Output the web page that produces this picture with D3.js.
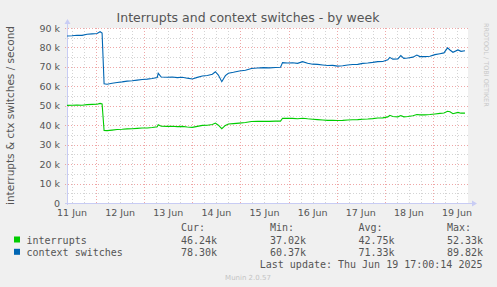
<!DOCTYPE html>
<html>
<head>
<meta charset="utf-8">
<script src="https://cdn.jsdelivr.net/npm/d3@7"></script>
<style>
  body { margin: 0; background: #f0f0f0; }
  svg { display: block; }
</style>
</head>
<body>
<div id="chart"></div>
<script>
// data: hours since Jun 11 09:30, values in thousands / second
var hours = [0, 2.5, 5, 7.5, 10, 12.5, 15, 16.5, 17.5, 18.5, 20, 22.5, 25, 27.5, 30, 32.5, 35, 37.5, 40, 42.5,
  45, 45.5, 47, 50, 52.5, 55, 57.5, 60, 62.5, 65, 67.5, 70, 72.5, 74, 75.5, 77.2, 79, 80.5, 83, 86,
  89, 92, 95, 98, 101, 104, 106.5, 107.5, 110, 112.5, 115, 117.5, 120, 122.5, 125, 127.5, 130, 132.5, 135, 137.5,
  140, 142.5, 145, 147.5, 150, 152.5, 155, 157.5, 160, 161, 162.5, 165, 166.5, 168, 170, 172.5, 174.5, 176, 178.5, 181,
  183.5, 186, 188, 189.8, 191, 192.5, 195, 196.5, 198.5];
var ctx_switches = [85.9, 86.0, 86.3, 86.2, 86.8, 87.0, 87.2, 88.1, 87.4, 61.3, 61.1, 61.6, 62.0, 62.3, 62.7, 62.9, 63.2, 63.5, 63.7, 64.0,
  64.5, 66.7, 64.8, 64.7, 64.8, 64.5, 64.7, 64.2, 63.8, 64.6, 65.3, 65.6, 66.2, 67.5, 65.8, 62.4, 65.5, 66.7, 67.2, 67.9,
  68.3, 69.2, 69.4, 69.6, 69.5, 69.7, 69.8, 72.2, 72.0, 72.1, 71.8, 72.7, 71.9, 71.4, 71.3, 71.0, 70.7, 70.8, 70.4, 70.6,
  71.0, 71.2, 71.3, 71.8, 72.0, 72.3, 72.7, 72.8, 73.6, 74.9, 74.0, 74.1, 75.8, 74.4, 74.6, 75.0, 76.1, 75.3, 75.3, 75.5,
  76.3, 76.8, 77.2, 79.8, 78.7, 77.5, 78.7, 78.0, 78.3];
var interrupts = [50.2, 50.3, 50.4, 50.3, 50.6, 50.7, 50.8, 51.2, 50.9, 37.3, 37.2, 37.5, 37.8, 37.9, 38.1, 38.2, 38.4, 38.6, 38.6, 38.8,
  39.2, 40.3, 39.5, 39.4, 39.5, 39.3, 39.4, 39.1, 38.9, 39.4, 39.9, 40.0, 40.4, 41.1, 40.0, 38.2, 39.9, 40.6, 40.8, 41.1,
  41.4, 41.9, 42.0, 42.0, 42.0, 42.1, 42.1, 43.6, 43.5, 43.5, 43.3, 43.6, 43.3, 43.1, 42.9, 42.7, 42.5, 42.5, 42.4, 42.5,
  42.7, 42.8, 42.9, 43.1, 43.2, 43.4, 43.7, 43.8, 44.3, 45.1, 44.5, 44.3, 45.0, 44.3, 44.5, 44.9, 45.5, 45.3, 45.3, 45.5,
  45.8, 46.1, 46.3, 47.2, 46.9, 45.9, 46.6, 46.2, 46.2];
var series_names = ["interrupts", "context switches"];
var series_colors = ["#00cc00", "#0066b3"];
var stat_heads = ["Cur:", "Min:", "Avg:", "Max:"];
var stat_values = [
  ["46.24k", "37.02k", "42.75k", "52.33k"],
  ["78.30k", "60.37k", "71.33k", "89.82k"]
];

var W = 497, H = 287;
var pLeft = 67, pRight = 468, pTop = 28, pBottom = 203;
var t0 = new Date(2025, 5, 11, 9, 30);
var t1 = new Date(2025, 5, 19, 17, 30);

var svg = d3.select("#chart").append("svg")
  .attr("width", W).attr("height", H)
  .style("font-family", "'DejaVu Sans', sans-serif");

svg.append("rect").attr("width", W).attr("height", H).attr("fill", "#f0f0f0");

var x = d3.scaleTime().domain([t0, t1]).range([pLeft, pRight]);
var y = d3.scaleLinear().domain([0, 90]).range([pBottom, pTop]);

// canvas
svg.append("rect")
  .attr("x", pLeft).attr("y", pTop)
  .attr("width", pRight - pLeft).attr("height", pBottom - pTop)
  .attr("fill", "#ffffff");

// minor grid
var minorY = d3.range(5, 90, 10);
svg.selectAll(".ymin").data(minorY).enter().append("line")
  .attr("x1", pLeft - 2).attr("x2", pRight)
  .attr("y1", function(d){ return Math.round(y(d)) + 0.5; })
  .attr("y2", function(d){ return Math.round(y(d)) + 0.5; })
  .attr("stroke", "#d4d4d4").attr("stroke-dasharray", "1,2");
var minorX = d3.timeHour.every(6).range(t0, t1).filter(function(d){ return d.getHours() != 0; });
svg.selectAll(".xmin").data(minorX).enter().append("line")
  .attr("y1", pTop).attr("y2", pBottom + 2)
  .attr("x1", function(d){ return Math.round(x(d)) + 0.5; })
  .attr("x2", function(d){ return Math.round(x(d)) + 0.5; })
  .attr("stroke", "#d4d4d4").attr("stroke-dasharray", "1,2");

// major grid
var majorY = d3.range(10, 91, 10);
svg.selectAll(".ymaj").data(majorY).enter().append("line")
  .attr("x1", pLeft - 2).attr("x2", pRight)
  .attr("y1", function(d){ return Math.round(y(d)) + 0.5; })
  .attr("y2", function(d){ return Math.round(y(d)) + 0.5; })
  .attr("stroke", "rgba(230,120,120,0.65)").attr("stroke-dasharray", "1,2");
var majorX = d3.timeDay.range(t0, t1);
svg.selectAll(".xmaj").data(majorX).enter().append("line")
  .attr("y1", pTop).attr("y2", pBottom + 2)
  .attr("x1", function(d){ return Math.round(x(d)) + 0.5; })
  .attr("x2", function(d){ return Math.round(x(d)) + 0.5; })
  .attr("stroke", "rgba(230,120,120,0.65)").attr("stroke-dasharray", "1,2");

// y labels
svg.selectAll(".ylab").data(d3.range(0, 91, 10)).enter().append("text")
  .attr("x", 60).attr("y", function(d){ return y(d) + 3.5; })
  .attr("text-anchor", "end")
  .attr("font-size", "9.5px").attr("fill", "#555")
  .text(function(d){ return d == 0 ? "0" : d + " k"; });

// x labels at noon
var noons = d3.timeDay.range(d3.timeDay.floor(t0), t1).map(function(d){ return d3.timeHour.offset(d, 12); });
svg.selectAll(".xlab").data(noons).enter().append("text")
  .attr("x", function(d){ return x(d); }).attr("y", 216)
  .attr("text-anchor", "middle")
  .attr("font-size", "9.5px").attr("fill", "#555")
  .text(d3.timeFormat("%d %b"));

// axes with arrows
var axisColor = "#c8ccf4";
svg.append("line").attr("x1", pLeft + 0.5).attr("x2", pLeft + 0.5).attr("y1", pBottom + 2).attr("y2", pTop - 5)
  .attr("stroke", axisColor);
svg.append("line").attr("x1", pLeft - 2).attr("x2", pRight + 4).attr("y1", pBottom + 0.5).attr("y2", pBottom + 0.5)
  .attr("stroke", axisColor);
svg.append("path").attr("d", "M" + (pLeft - 2.5) + "," + (pTop - 4) + "L" + (pLeft + 0.5) + "," + (pTop - 9) + "L" + (pLeft + 3.5) + "," + (pTop - 4) + "Z")
  .attr("fill", axisColor);
svg.append("path").attr("d", "M" + (pRight + 4) + "," + (pBottom - 2.5) + "L" + (pRight + 9) + "," + (pBottom + 0.5) + "L" + (pRight + 4) + "," + (pBottom + 3.5) + "Z")
  .attr("fill", axisColor);

// lines
var line = d3.line()
  .x(function(d){ return x(d3.timeMinute.offset(t0, Math.round(d[0] * 60))); })
  .y(function(d){ return y(d[1]); });
[interrupts, ctx_switches].forEach(function(vals, i){
  svg.append("path")
    .datum(hours.map(function(h, j){ return [h, vals[j]]; }))
    .attr("d", line)
    .attr("fill", "none")
    .attr("stroke", series_colors[i])
    .attr("stroke-width", 1.1);
});

// title
svg.append("text").attr("x", 248).attr("y", 22)
  .attr("text-anchor", "middle").attr("font-size", "12.5px").attr("fill", "#555")
  .text("Interrupts and context switches - by week");

// y title
svg.append("text")
  .attr("transform", "translate(14," + ((pTop + pBottom) / 2) + ") rotate(-90)")
  .attr("text-anchor", "middle").attr("font-size", "10.5px").attr("fill", "#555")
  .text("interrupts & ctx switches / second");

// rrdtool watermark
svg.append("text")
  .attr("transform", "translate(484,23) rotate(90)")
  .attr("font-size", "6.5px").attr("fill", "#c8c8c8")
  .text("RRDTOOL / TOBI OETIKER");

// legend
var mono = "'DejaVu Sans Mono', monospace";
var colX = [181, 270, 358.5, 447];
svg.selectAll(".head").data(stat_heads).enter().append("text")
  .attr("x", function(d, i){ return colX[i]; }).attr("y", 231)
  .attr("font-family", mono).attr("font-size", "10px").attr("fill", "#555")
  .text(function(d){ return d; });
series_names.forEach(function(name, i){
  var yy = 243.5 + i * 12.3;
  svg.append("rect").attr("x", 14).attr("y", yy - 7).attr("width", 6).attr("height", 6)
    .attr("fill", series_colors[i]);
  svg.append("text").attr("x", 26.5).attr("y", yy)
    .attr("font-family", mono).attr("font-size", "10px").attr("fill", "#555")
    .text(name);
  stat_values[i].forEach(function(v, k){
    svg.append("text").attr("x", colX[k]).attr("y", yy)
      .attr("font-family", mono).attr("font-size", "10px").attr("fill", "#555")
      .text(v);
  });
});
svg.append("text").attr("x", 482.5).attr("y", 267.5).attr("text-anchor", "end")
  .attr("font-family", mono).attr("font-size", "10px").attr("fill", "#555")
  .text("Last update: Thu Jun 19 17:00:14 2025");
svg.append("text").attr("x", 248).attr("y", 279.5).attr("text-anchor", "middle")
  .attr("font-size", "7px").attr("fill", "#c4c4c4")
  .text("Munin 2.0.57");
</script>
</body>
</html>
